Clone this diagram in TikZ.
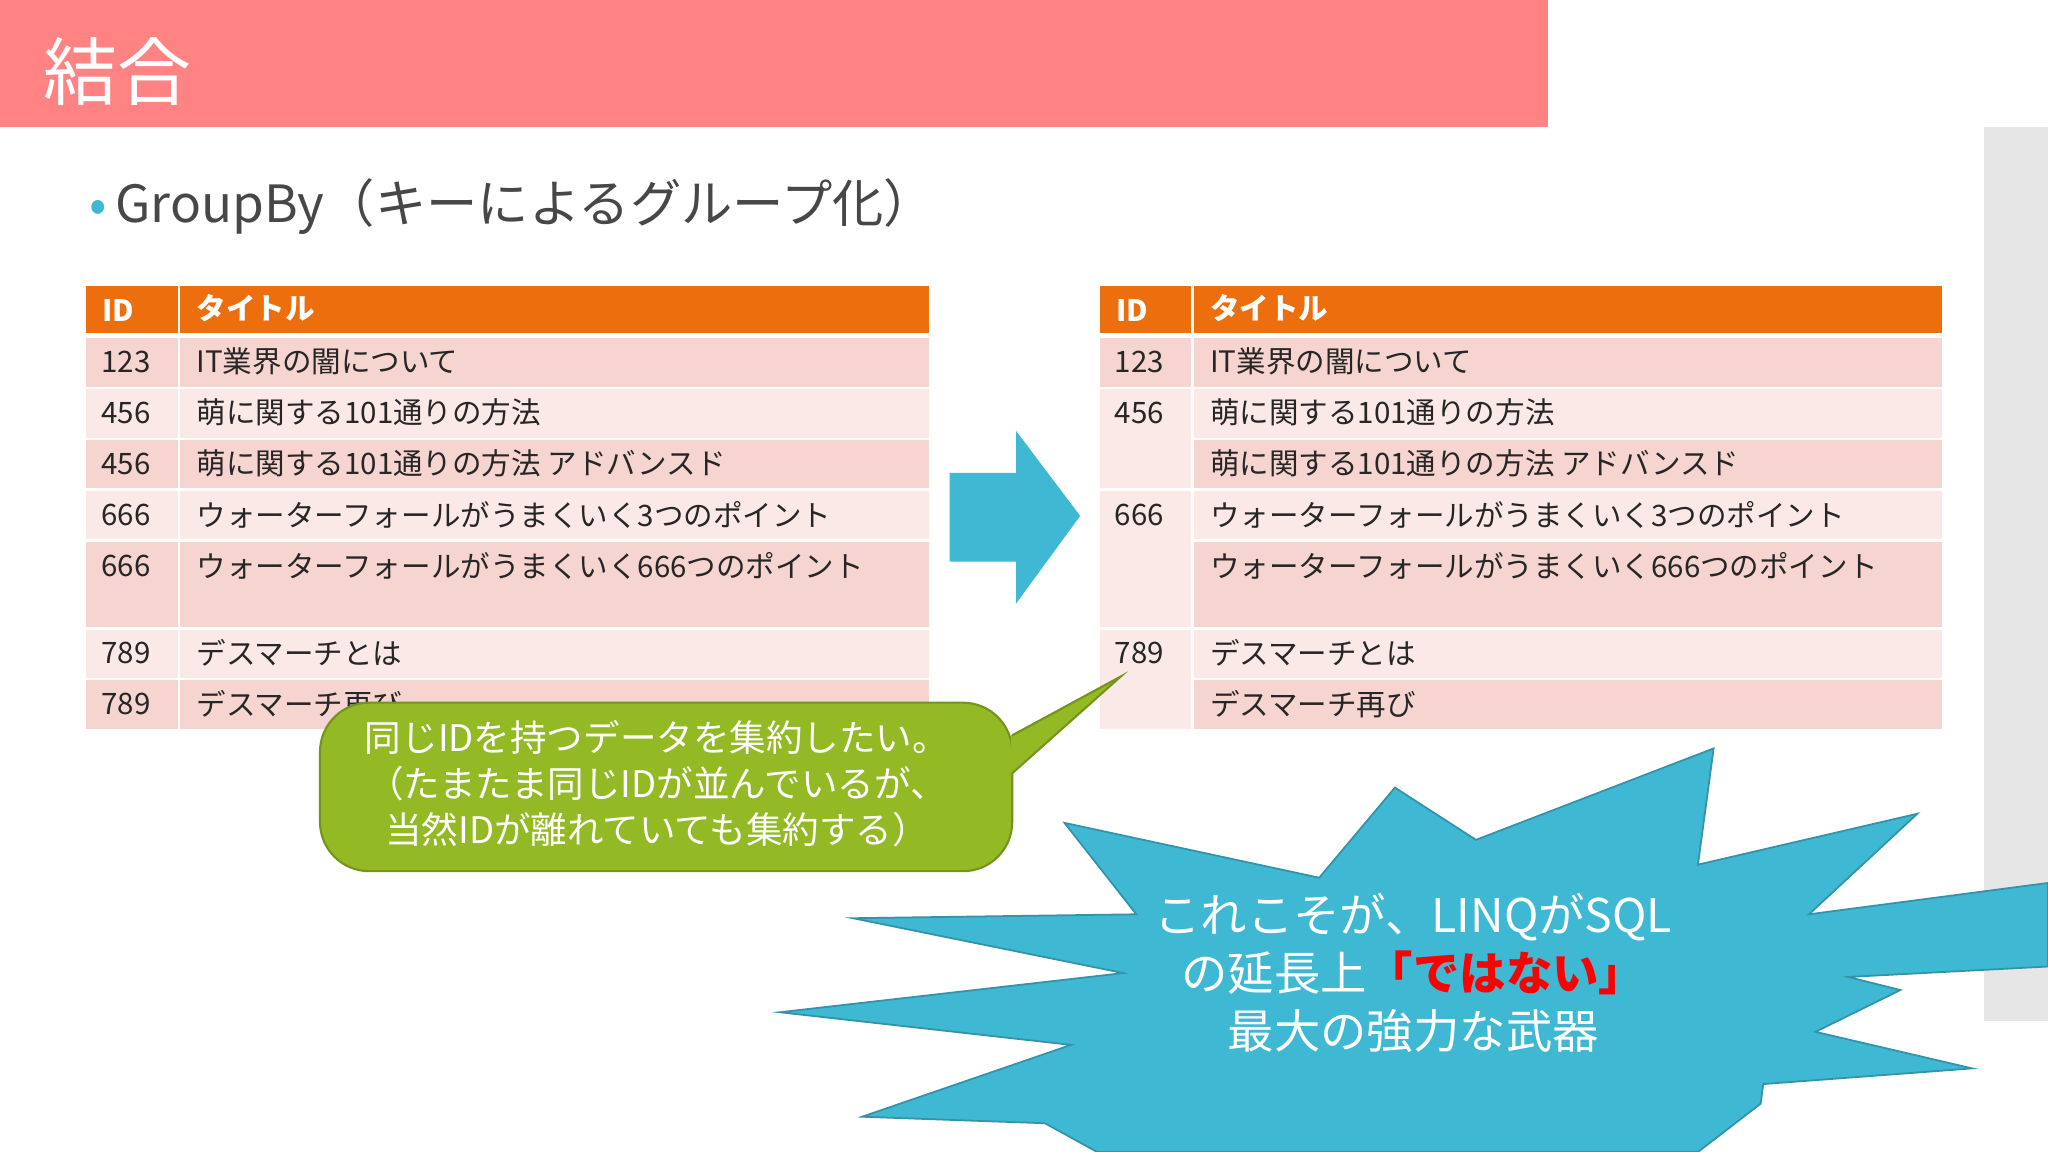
\documentclass[tikz,border=0pt]{standalone}
\usepackage{fontspec}
\setmainfont{Noto Sans CJK JP}
\definecolor{ttl}{HTML}{FF8383}
\definecolor{hdr}{HTML}{EC6E0C}
\definecolor{rd}{HTML}{F6D4D0}
\definecolor{rl}{HTML}{FBE9E7}
\definecolor{sky}{HTML}{3FB8D3}
\definecolor{grn}{HTML}{93B924}
\definecolor{gbar}{HTML}{E6E6E6}
\begin{document}
\begin{tikzpicture}[x=0.013061cm,y=-0.013061cm,
 ctext/.style={anchor=west,inner sep=0pt,font=\fontsize{8.4pt}{10pt}\selectfont,text=black!85},
 htext/.style={anchor=west,inner sep=0pt,font=\bfseries\fontsize{8.4pt}{10pt}\selectfont,text=white}]
\useasboundingbox (0,0) rectangle (1568,882);
\fill[white] (0,0) rectangle (1568,882);
\fill[ttl] (0,0) rectangle (1185,97);
\node[anchor=west,inner sep=0pt,text=white,font=\fontsize{21pt}{24pt}\selectfont] (title) at (33,55) {結合};
\fill[gbar] (1519,97) rectangle (1568,782);
\node[anchor=west,inner sep=0pt,font=\fontsize{14.6pt}{17pt}\selectfont,text=black!72] (sub) at (68,158) {{\color{sky}•}\,GroupBy（キーによるグループ化）};
\foreach \xo/\tb in {0/L,776/R}{
 \fill[hdr] (66+\xo,219) rectangle (136+\xo,255);
 \fill[hdr] (138+\xo,219) rectangle (711+\xo,255);
 \node[htext] (h1\tb) at (78+\xo,238) {ID};
 \node[htext] (h2\tb) at (150+\xo,236) {タイトル};
 \foreach \ya/\yb/\c [count=\i] in {259/296/rd,298/335/rl,337/374/rd,376/413/rl,415/480/rd,482/519/rl,521/558/rd}{
  \fill[\c] (138+\xo,\ya) rectangle (711+\xo,\yb);
 }
}
\foreach \ya/\yb/\c in {259/296/rd,298/335/rl,337/374/rd,376/413/rl,415/480/rd,482/519/rl,521/558/rd}{
 \fill[\c] (66,\ya) rectangle (136,\yb);}
\foreach \ya/\yb/\c in {259/296/rd,298/374/rl,376/480/rl,482/558/rl}{
 \fill[\c] (842,\ya) rectangle (912,\yb);}
\foreach \y/\id/\t [count=\i] in {277/123/IT業界の闇について,316/456/萌に関する101通りの方法,355/456/萌に関する101通りの方法 アドバンスド,394/666/ウォーターフォールがうまくいく3つのポイント,433/666/ウォーターフォールがうまくいく666つのポイント,500/789/デスマーチとは,539/789/デスマーチ再び}{
 \node[ctext] (li\i) at (77,\y) {\id};
 \node[ctext] (lt\i) at (150,\y) {\t};
 \node[ctext] (rt\i) at (926,\y) {\t};
}
\foreach \y/\id/\n in {277/123/1,316/456/2,394/666/3,500/789/4}{
 \node[ctext] (ri\n) at (853,\y) {\id};}
\fill[sky] (727,362) -- (778,362) -- (778,330) -- (827,395) -- (778,462) -- (778,430) -- (727,430) -- cycle;
\coordinate (tip) at (858,518);
\fill[grn,draw=grn!80!black,line width=0.6pt,rounded corners=14pt] (245,538) rectangle (775,667);
\fill[grn] (774,563) -- (tip) -- (774,592) -- cycle;
\draw[grn!80!black,line width=0.6pt] (775,563) -- (tip) -- (775,592);
\node[align=center,text=white,font=\fontsize{10.4pt}{13pt}\selectfont] (call) at (503,600) {同じIDを持つデータを集約したい。\\（たまたま同じIDが並んでいるが、\\当然IDが離れていても集約する）};
\fill[sky,draw=sky!80!black,line width=0.5pt] (815,630) -- (1010,672) -- (1068,603) -- (1130,643) -- (1312,573) -- (1300,662) -- (1468,623) -- (1385,700) -- (1568,676) -- (1568,740) -- (1415,748) -- (1455,758) -- (1390,790) -- (1510,818) -- (1350,830) -- (1348,845) -- (1300,882) -- (840,882) -- (800,860) -- (660,855) -- (820,800) -- (597,775) -- (860,745) -- (653,703) -- (870,700) -- cycle;
\node[align=center,text=white,font=\fontsize{13.2pt}{16.5pt}\selectfont] (burst) at (1082,745) {これこそが、LINQがSQL\\の延長上{\color{red}\bfseries「ではない」}\\最大の強力な武器};
\end{tikzpicture}
\end{document}
